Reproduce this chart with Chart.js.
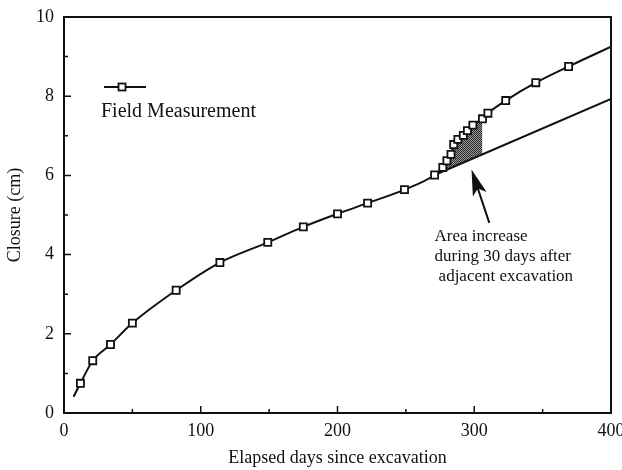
<!DOCTYPE html>
<html>
<head>
<meta charset="utf-8">
<script src="https://cdn.jsdelivr.net/npm/chart.js@4"></script>
<style>
  html, body { margin: 0; padding: 0; background: #fff; }
  #wrap { width: 622px; height: 470px; }
</style>
</head>
<body>
<div id="wrap"><canvas id="closureChart"></canvas></div>
<script>
// field readings: days since excavation vs. tunnel closure (cm)
var days    = [12, 21, 34, 50, 82, 114, 149, 175, 200, 222, 249, 271, 277, 280, 283, 285, 288, 292, 295, 299, 306, 310, 323, 345, 369];
var closure = [0.75, 1.32, 1.73, 2.27, 3.10, 3.80, 4.31, 4.70, 5.03, 5.30, 5.64, 6.01, 6.20, 6.37, 6.53, 6.78, 6.91, 7.01, 7.13, 7.27, 7.43, 7.57, 7.89, 8.34, 8.75];

// ends of the fitted curve beyond the first / last reading
var curveStart = {x: 7, y: 0.41};
var curveEnd   = {x: 400, y: 9.25};

// trend before the adjacent excavation, carried forward
var trendDays    = [271, 400];
var trendClosure = [6.01, 7.93];

// 30 day window that gets shaded
var shadeFrom = 271, shadeTo = 306;

var xTicks = [0, 100, 200, 300, 400];
var yTicks = [0, 2, 4, 6, 8, 10];

var serif = "'Liberation Serif', 'Times New Roman', serif";
var ink = '#111';

function toPoints(xs, ys) {
  return xs.map(function (v, i) { return {x: v, y: ys[i]}; });
}

var readings = toPoints(days, closure);
var curve = [curveStart].concat(readings, [curveEnd]);
var shade = readings.filter(function (p) { return p.x >= shadeFrom && p.x <= shadeTo; });
var trend = toPoints(trendDays, trendClosure);

function stipple() {
  var c = document.createElement('canvas');
  c.width = 2; c.height = 2;
  var g = c.getContext('2d');
  g.fillStyle = '#9a9a9a';
  g.fillRect(0, 0, 2, 2);
  g.fillStyle = '#2a2a2a';
  g.fillRect(0, 0, 1, 1);
  g.fillRect(1, 1, 1, 1);
  return g.createPattern(c, 'repeat');
}

function drawMarker(ctx, x, y) {
  ctx.save();
  ctx.fillStyle = '#fff';
  ctx.strokeStyle = ink;
  ctx.lineWidth = 1.8;
  ctx.fillRect(x - 3.5, y - 3.5, 7, 7);
  ctx.strokeRect(x - 3.5, y - 3.5, 7, 7);
  ctx.restore();
}

// frame, inward ticks, legend and the arrow note
var decorations = {
  id: 'decorations',
  afterDraw: function (chart) {
    var ctx = chart.ctx, a = chart.chartArea;
    var xs = chart.scales.x, ys = chart.scales.y;
    ctx.save();
    ctx.strokeStyle = ink;
    ctx.lineWidth = 2;
    ctx.strokeRect(a.left, a.top, a.right - a.left, a.bottom - a.top);

    ctx.lineWidth = 1.5;
    ctx.beginPath();
    xTicks.forEach(function (v, i) {
      var px = xs.getPixelForValue(v);
      ctx.moveTo(px, a.bottom); ctx.lineTo(px, a.bottom - 7);
      if (i > 0) {
        var mx = xs.getPixelForValue((v + xTicks[i - 1]) / 2);
        ctx.moveTo(mx, a.bottom); ctx.lineTo(mx, a.bottom - 4);
      }
    });
    yTicks.forEach(function (v, i) {
      var py = ys.getPixelForValue(v);
      ctx.moveTo(a.left, py); ctx.lineTo(a.left + 7, py);
      if (i > 0) {
        var my = ys.getPixelForValue((v + yTicks[i - 1]) / 2);
        ctx.moveTo(a.left, my); ctx.lineTo(a.left + 4, my);
      }
    });
    ctx.stroke();

    // legend
    ctx.lineWidth = 2;
    ctx.beginPath();
    ctx.moveTo(104, 87); ctx.lineTo(146, 87);
    ctx.stroke();
    drawMarker(ctx, 122, 87);
    ctx.fillStyle = ink;
    ctx.font = '20px ' + serif;
    ctx.textBaseline = 'middle';
    ctx.textAlign = 'left';
    ctx.fillText('Field Measurement', 101, 112);

    // arrow pointing at the shaded area
    var tipX = xs.getPixelForValue(298), tipY = ys.getPixelForValue(6.15);
    var tailX = xs.getPixelForValue(311), tailY = ys.getPixelForValue(4.8);
    var ang = Math.atan2(tipY - tailY, tipX - tailX);
    ctx.lineWidth = 2;
    ctx.beginPath();
    ctx.moveTo(tailX, tailY);
    ctx.lineTo(tipX - 16 * Math.cos(ang), tipY - 16 * Math.sin(ang));
    ctx.stroke();
    ctx.beginPath();
    ctx.moveTo(tipX, tipY);
    ctx.lineTo(tipX - 27 * Math.cos(ang - 0.27), tipY - 27 * Math.sin(ang - 0.27));
    ctx.lineTo(tipX - 20 * Math.cos(ang), tipY - 20 * Math.sin(ang));
    ctx.lineTo(tipX - 27 * Math.cos(ang + 0.27), tipY - 27 * Math.sin(ang + 0.27));
    ctx.closePath();
    ctx.fill();

    ctx.font = '17px ' + serif;
    var tx = xs.getPixelForValue(271), ty = ys.getPixelForValue(4.45);
    ctx.fillText('Area increase', tx, ty);
    ctx.fillText('during 30 days after', tx, ty + 20);
    ctx.fillText('adjacent excavation', tx + 4, ty + 40);
    ctx.restore();
  }
};

var canvas = document.getElementById('closureChart');

new Chart(canvas, {
  type: 'line',
  data: {
    datasets: [
      {
        label: 'increase',
        data: shade,
        borderWidth: 0,
        pointRadius: 0,
        backgroundColor: stipple(),
        fill: 1,
        order: 3
      },
      {
        label: 'trend',
        data: trend,
        borderColor: ink,
        borderWidth: 2,
        pointRadius: 0,
        fill: false,
        order: 2
      },
      {
        label: 'curve',
        data: curve,
        borderColor: ink,
        borderWidth: 2,
        pointRadius: 0,
        cubicInterpolationMode: 'monotone',
        fill: false,
        order: 1
      },
      {
        label: 'Field Measurement',
        data: readings,
        showLine: false,
        pointStyle: 'rect',
        pointRadius: 5,
        pointBorderWidth: 1.8,
        pointBackgroundColor: '#fff',
        pointBorderColor: ink,
        order: 0
      }
    ]
  },
  options: {
    responsive: true,
    maintainAspectRatio: false,
    animation: false,
    events: [],
    layout: { padding: { top: 17, right: 11, left: 0, bottom: 0 } },
    plugins: {
      legend: { display: false },
      tooltip: { enabled: false }
    },
    scales: {
      x: {
        type: 'linear',
        min: 0,
        max: 400,
        afterFit: function (s) {
          s.height = 57;
          s.paddingLeft = 0; s.paddingRight = 0;
        },
        afterBuildTicks: function (s) { s.ticks = xTicks.map(function (v) { return {value: v}; }); },
        grid: { display: false, drawTicks: false },
        border: { display: false },
        ticks: { color: ink, padding: 7, maxRotation: 0, font: { family: serif, size: 18 } },
        title: {
          display: true,
          text: 'Elapsed days since excavation',
          color: ink,
          padding: { top: 0, bottom: 1 },
          font: { family: serif, size: 18 }
        }
      },
      y: {
        min: 0,
        max: 10,
        afterFit: function (s) {
          s.width = 64;
          s.paddingTop = 0; s.paddingBottom = 0;
        },
        afterBuildTicks: function (s) { s.ticks = yTicks.map(function (v) { return {value: v}; }); },
        grid: { display: false, drawTicks: false },
        border: { display: false },
        ticks: { color: ink, padding: 10, font: { family: serif, size: 18 } },
        title: {
          display: true,
          text: 'Closure (cm)',
          color: ink,
          padding: { top: 4, bottom: 2 },
          font: { family: serif, size: 18 }
        }
      }
    }
  },
  plugins: [decorations]
});
</script>
</body>
</html>
